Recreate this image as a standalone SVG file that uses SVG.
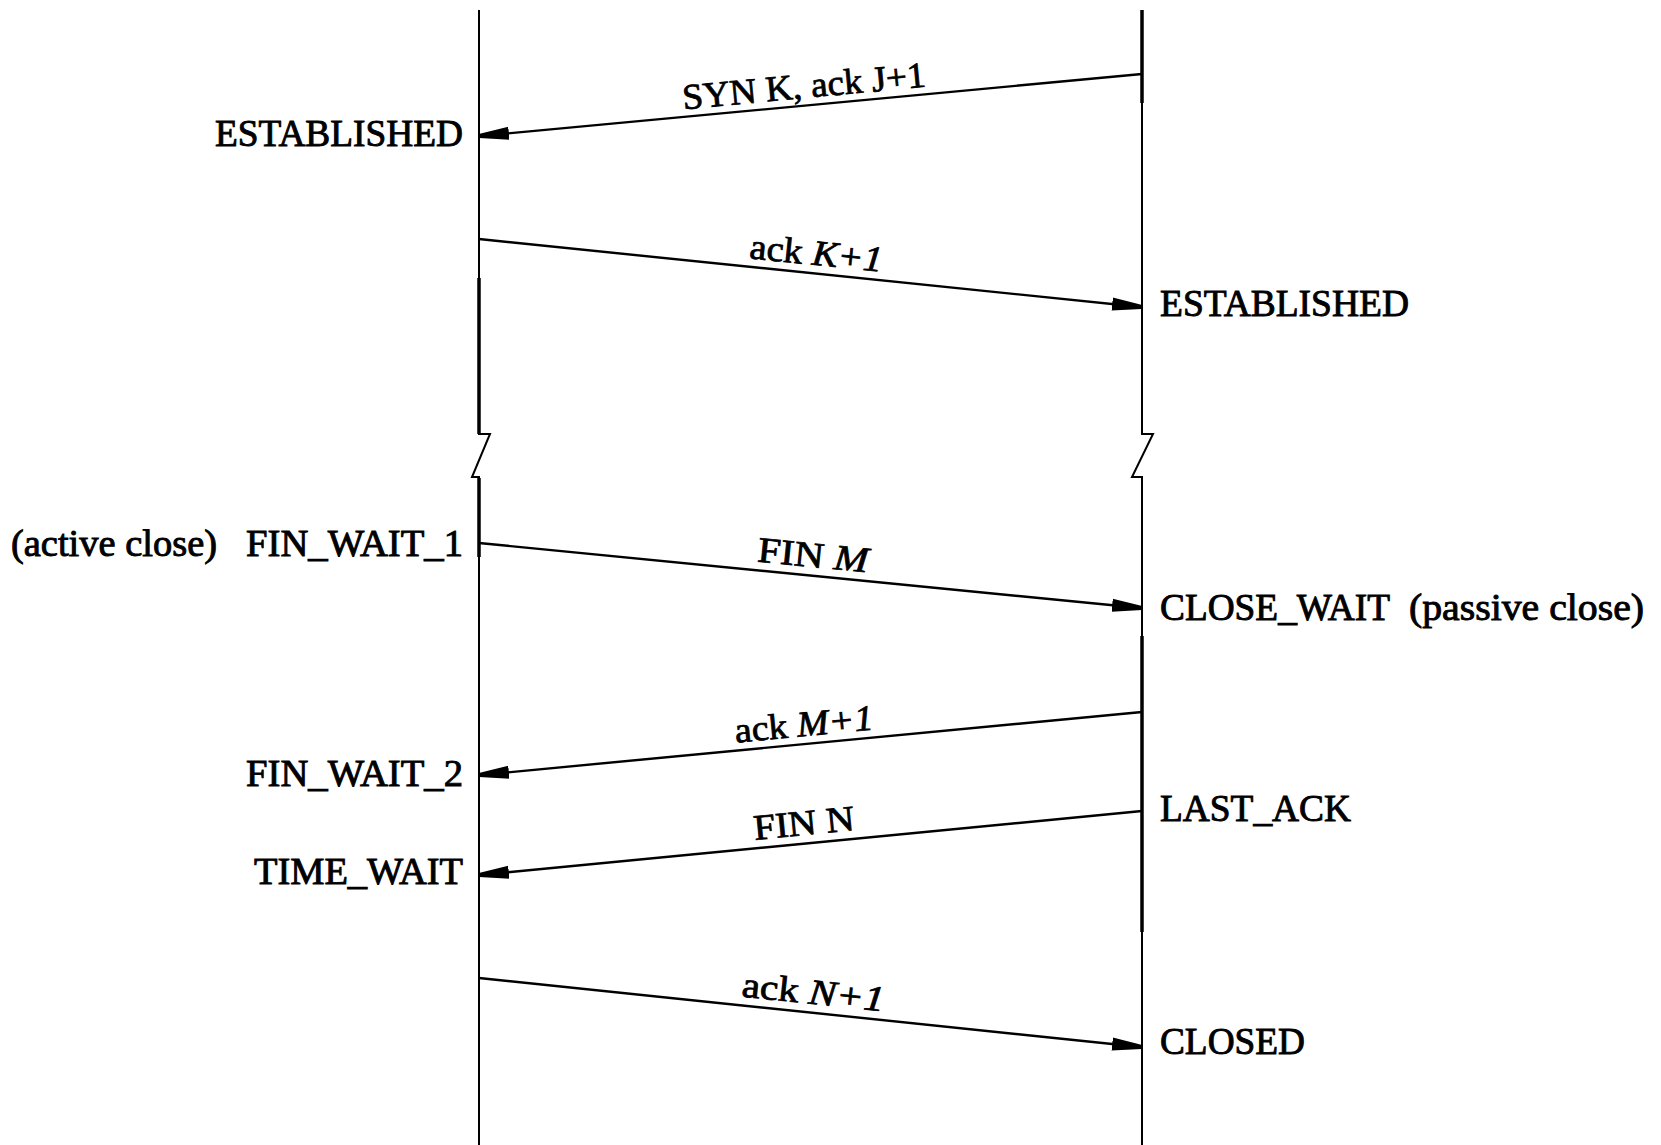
<svg xmlns="http://www.w3.org/2000/svg" width="1661" height="1145" viewBox="0 0 1661 1145">
<style>
  .st { font-family: "Liberation Serif", "Times New Roman", serif; font-size: 37px; fill: #000; stroke: #000; stroke-width: 0.9; }
  .lb { font-family: "Liberation Serif", "Times New Roman", serif; font-size: 36px; fill: #000; stroke: #000; stroke-width: 0.8; text-anchor: middle; }
  .it { font-style: italic; }
  .life { stroke: #000; fill: none; stroke-width: 2; }
  .thick { stroke: #000; fill: none; stroke-width: 3.5; }
  .msg { stroke: #000; stroke-width: 2.4; fill: none; marker-end: url(#ah); }
</style>
<defs>
  <marker id="ah" viewBox="0 0 30 16" refX="29" refY="8" markerWidth="30" markerHeight="16" markerUnits="userSpaceOnUse" orient="auto">
    <path d="M0,1.5 L30,6 L30,10 L0,14.5 Z" fill="#000"/>
  </marker>
</defs>
<rect width="1661" height="1145" fill="#fff"/>

<g id="lifeline-client">
  <path class="life" d="M479,10 L479,434 L490,434 L472,477 L479,477 L479,1145"/>
  <path class="thick" d="M479,278 L479,434"/>
  <path class="thick" d="M479,478 L479,557"/>
</g>
<g id="lifeline-server">
  <path class="life" d="M1142,10 L1142,434 L1153,434 L1132,477 L1142,477 L1142,1145"/>
  <path class="thick" d="M1142,10 L1142,103"/>
  <path class="thick" d="M1142,636 L1142,932"/>
</g>

<g id="connectors">
  <line class="msg" x1="1142" y1="74" x2="480" y2="136"/>
  <line class="msg" x1="479" y1="239" x2="1141" y2="307"/>
  <line class="msg" x1="479" y1="543" x2="1141" y2="608"/>
  <line class="msg" x1="1142" y1="712" x2="480" y2="775"/>
  <line class="msg" x1="1142" y1="811" x2="480" y2="875"/>
  <line class="msg" x1="479" y1="978" x2="1141" y2="1047"/>
</g>

<g id="labels">
  <text class="lb" transform="translate(805,98) rotate(-5.37)" textLength="244" lengthAdjust="spacingAndGlyphs">SYN K, ack J+1</text>
  <text class="lb" transform="translate(815,265) rotate(5.9)" textLength="133" lengthAdjust="spacingAndGlyphs">ack <tspan class="it">K+1</tspan></text>
  <text class="lb" transform="translate(812,567) rotate(5.65)" textLength="111" lengthAdjust="spacingAndGlyphs">FIN <tspan class="it">M</tspan></text>
  <text class="lb" transform="translate(805,736) rotate(-5.48)" textLength="139" lengthAdjust="spacingAndGlyphs">ack <tspan class="it">M+1</tspan></text>
  <text class="lb" transform="translate(805,835) rotate(-5.56)" textLength="101" lengthAdjust="spacingAndGlyphs">FIN N</text>
  <text class="lb" transform="translate(812,1004) rotate(6.0)" textLength="143" lengthAdjust="spacingAndGlyphs">ack <tspan class="it">N+1</tspan></text>
</g>

<g id="state-established-client"><text class="st" x="215" y="146" textLength="248" lengthAdjust="spacingAndGlyphs">ESTABLISHED</text></g>
<g id="state-established-server"><text class="st" x="1160" y="316" textLength="249" lengthAdjust="spacingAndGlyphs">ESTABLISHED</text></g>
<g id="note-active-close"><text class="st" x="11" y="556" textLength="206" lengthAdjust="spacingAndGlyphs">(active close)</text></g>
<g id="state-fin-wait-1"><text class="st" x="246" y="556" textLength="217" lengthAdjust="spacingAndGlyphs">FIN_WAIT_1</text></g>
<g id="state-close-wait"><text class="st" x="1160" y="620" textLength="230" lengthAdjust="spacingAndGlyphs">CLOSE_WAIT</text></g>
<g id="note-passive-close"><text class="st" x="1409" y="620" textLength="235" lengthAdjust="spacingAndGlyphs">(passive close)</text></g>
<g id="state-fin-wait-2"><text class="st" x="246" y="786" textLength="217" lengthAdjust="spacingAndGlyphs">FIN_WAIT_2</text></g>
<g id="state-last-ack"><text class="st" x="1160" y="821" textLength="191" lengthAdjust="spacingAndGlyphs">LAST_ACK</text></g>
<g id="state-time-wait"><text class="st" x="254" y="884" textLength="209" lengthAdjust="spacingAndGlyphs">TIME_WAIT</text></g>
<g id="state-closed"><text class="st" x="1160" y="1054" textLength="145" lengthAdjust="spacingAndGlyphs">CLOSED</text></g>
</svg>
